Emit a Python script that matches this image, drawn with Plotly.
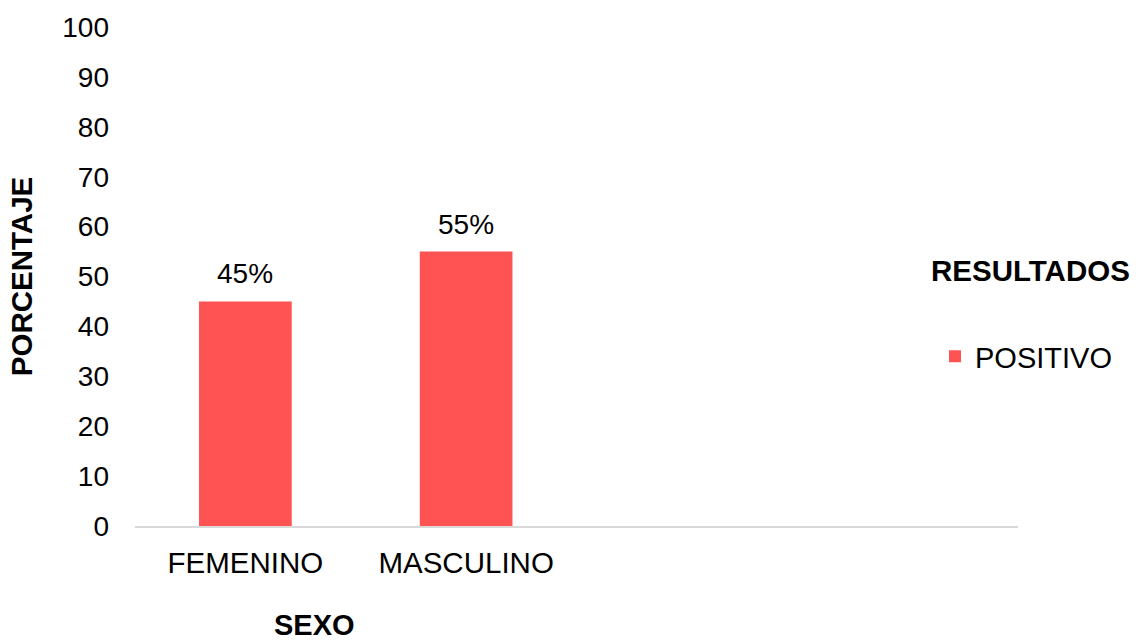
import plotly.graph_objects as go

categories = ["FEMENINO", "MASCULINO", " ", "  "]
values = [45, 55, None, None]
labels = ["45%", "55%", "", ""]
series_name = "POSITIVO"
legend_title = "RESULTADOS"
x_title = "SEXO"
y_title = "PORCENTAJE"
y_ticks = list(range(0, 101, 10))

FONT = "Liberation Sans, Arial, sans-serif"
FS = 28
BAR = "#FF5252"

fig = go.Figure()
fig.add_trace(go.Bar(
    x=categories, y=values, name=series_name,
    marker=dict(color=BAR, line=dict(width=0)),
    width=0.42, showlegend=True,
))

for c, v, t in zip(categories, values, labels):
    if v is not None:
        fig.add_annotation(x=c, y=v, text=t, showarrow=False, yanchor="bottom",
                           yshift=10, font=dict(family=FONT, size=FS, color="#000"))

fig.add_annotation(x=(314 - 135) / 883, y=-(626 - 526) / 503, xref="x domain", yref="y domain",
                   text=f"<b>{x_title}</b>", showarrow=False, xanchor="center", yanchor="middle",
                   font=dict(family=FONT, size=29, color="#000"))
fig.add_annotation(x=(929 - 135) / 883, y=(526 - 268) / 503, xref="x domain", yref="y domain",
                   text=f"<b>{legend_title}</b>", showarrow=False, xanchor="left", yanchor="middle",
                   font=dict(family=FONT, size=29.5, color="#000"))

fig.update_layout(
    width=1141, height=641,
    margin=dict(l=135, r=123, t=23, b=115),
    paper_bgcolor="white", plot_bgcolor="white",
    font=dict(family=FONT, size=FS, color="#000"),
    bargap=0.58,
    legend=dict(x=(975 - 40 - 135) / 883, y=(526 - 355) / 503, xanchor="left", yanchor="middle",
                font=dict(family=FONT, size=29, color="#000"),
                bgcolor="rgba(0,0,0,0)"),
    xaxis=dict(type="category", categoryorder="array", categoryarray=categories,
               range=[-0.5, 3.5], showline=True, linecolor="#D9D9D9", linewidth=2,
               showgrid=False, zeroline=False, ticks="", ticklabelstandoff=10,
               tickfont=dict(family=FONT, size=29.5, color="#000")),
    yaxis=dict(range=[0, 100], tickmode="array", tickvals=y_ticks,
               showline=False, showgrid=False, zeroline=False, ticks="",
               ticklabelstandoff=25,
               tickfont=dict(family=FONT, size=FS, color="#000"),
               title=dict(text=f"<b>{y_title}</b>", standoff=20,
                          font=dict(family=FONT, size=29.5, color="#000"))),
)

fig.write_html("out.html")
